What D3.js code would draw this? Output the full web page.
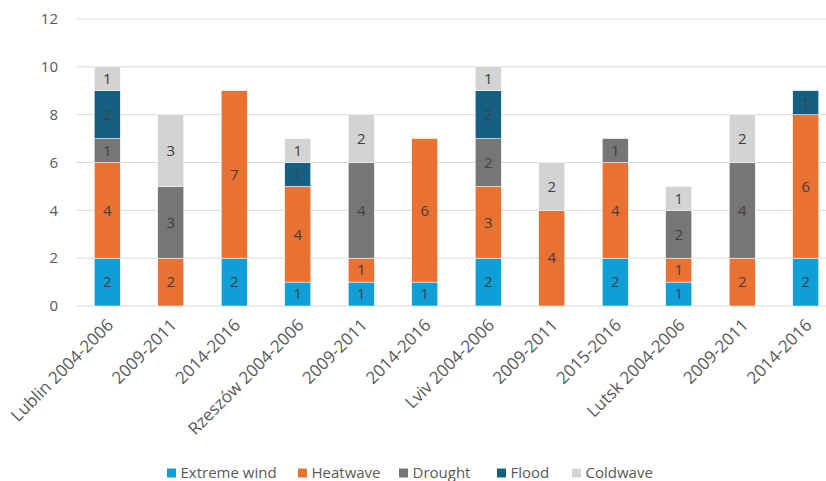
<!DOCTYPE html>
<html><head><meta charset="utf-8">
<script src="https://cdn.jsdelivr.net/npm/d3@7"></script>
<style>body{margin:0;background:#fff;}svg{display:block;font-family:"Open Sans","Noto Sans",sans-serif;}</style>
</head><body><svg id="c" width="826" height="481"></svg>
<script>
const categories = ["Lublin 2004-2006","2009-2011","2014-2016","Rzeszów 2004-2006","2009-2011","2014-2016","Lviv 2004-2006","2009-2011","2015-2016","Lutsk 2004-2006","2009-2011","2014-2016"];
const seriesNames = ["Extreme wind","Heatwave","Drought","Flood","Coldwave"];
const extremeWind = [2,0,2,1,1,1,2,0,2,1,0,2];
const heatwave    = [4,2,7,4,1,6,3,4,4,1,2,6];
const drought     = [1,3,0,0,4,0,2,0,1,2,4,0];
const flood       = [2,0,0,1,0,0,2,0,0,0,0,1];
const coldwave    = [1,3,0,1,2,0,1,2,0,1,2,0];
const yTicks = [0,2,4,6,8,10,12];
const colors = ["#0f9ed5","#e97132","#767676","#156082","#d3d3d3"];

const values = [extremeWind, heatwave, drought, flood, coldwave];
const rows = categories.map((c,i)=>{const o={idx:i}; seriesNames.forEach((s,j)=>o[s]=values[j][i]); return o;});
const stack = d3.stack().keys(seriesNames)(rows);

const svg = d3.select("#c");
const x = d3.scaleBand().domain(d3.range(categories.length)).range([75.5,837.5]).paddingInner(0.59).paddingOuter(0.295);
const y = d3.scaleLinear().domain([0,12]).range([306,19]);

svg.append("g").selectAll("line").data(yTicks).join("line")
  .attr("x1",76).attr("x2",826).attr("y1",d=>y(d)).attr("y2",d=>y(d))
  .attr("stroke","#d9d9d9").attr("stroke-width",1);
svg.append("g").selectAll("text").data(yTicks).join("text")
  .attr("x",58).attr("y",d=>y(d)).attr("dy","0.35em").attr("text-anchor","end")
  .attr("fill","#595959").attr("font-size",15).text(d=>d);

const g = svg.append("g");
stack.forEach((layer,j)=>{
  const sg = g.append("g");
  sg.selectAll("rect").data(layer.filter(d=>d[1]-d[0]>0)).join("rect")
    .attr("x",d=>x(d.data.idx)).attr("width",x.bandwidth())
    .attr("y",d=>y(d[1])).attr("height",d=>y(d[0])-y(d[1]))
    .attr("fill",colors[j]).attr("stroke","#fff").attr("stroke-width",0.5);
  sg.selectAll("text").data(layer.filter(d=>d[1]-d[0]>0)).join("text")
    .attr("x",d=>x(d.data.idx)+x.bandwidth()/2).attr("y",d=>(y(d[0])+y(d[1]))/2)
    .attr("dy","0.35em").attr("text-anchor","middle").attr("fill","#404040").attr("font-size",15)
    .text(d=>d[1]-d[0]);
});

svg.append("g").selectAll("text").data(categories).join("text")
  .attr("transform",(d,i)=>`translate(${x(i)+x.bandwidth()/2+3},322) rotate(-45)`)
  .attr("text-anchor","end").attr("dy","0.35em").attr("fill","#595959").attr("font-size",17).text(d=>d);

const legendX = [167,298,399,497,572];
const lg = svg.append("g");
seriesNames.forEach((s,j)=>{
  lg.append("rect").attr("x",legendX[j]).attr("y",468.5).attr("width",9).attr("height",9).attr("fill",colors[j]);
  lg.append("text").attr("x",legendX[j]+13.5).attr("y",473).attr("dy","0.35em").attr("fill","#595959").attr("font-size",15).text(s);
});
</script></body></html>
